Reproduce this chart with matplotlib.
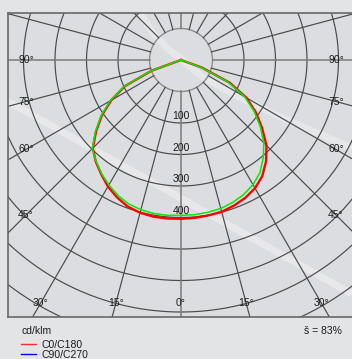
import numpy as np
import matplotlib
matplotlib.use("Agg")
import matplotlib.pyplot as plt
from matplotlib.lines import Line2D

plt.rcParams['font.family'] = ['Liberation Sans', 'DejaVu Sans']

# Luminous intensity distribution, cd/klm, against gamma (degrees from nadir)
gamma = [0, 5, 10, 15, 20, 25, 30, 35, 40, 45, 50, 55, 60, 65, 70, 75]
c0 = [404, 403, 401, 399, 392, 383, 370, 350, 320, 284, 236, 190, 140, 70, -30, -100]
c180 = [404, 405, 405, 402, 395, 381, 364, 342, 321, 296, 252, 207, 156, 97, 0, -100]
c90 = [393, 393, 391, 388, 381, 371, 357, 337, 306, 272, 228, 183, 133, 63, -35, -100]
c270 = [393, 395, 395, 392, 386, 374, 358, 340, 320, 298, 255, 210, 160, 100, 4, -100]

ring_values = [100, 200, 300, 400]
ring_labels = ["100", "200", "300", "400"]
side_angles = [45, 60, 75, 90]
bottom_angles = [0, 15, 30]
efficiency = "š = 83%"
unit = "cd/klm"
series_names = ["C0/C180", "C90/C270"]

R_ORIGIN = -100          # value drawn at the pole
RING_STEP = 100

W, H = 352, 359
PX = 0.315               # pixels per cd/klm
cx, cy = 181, 60         # pole position in pixels
fl, ft, fb = 8, 13, 317  # frame left / top / bottom in pixels

fig = plt.figure(figsize=(W / 100, H / 100), dpi=100, facecolor='#e3e4e5')
ax = fig.add_axes([fl / W, 1 - fb / H, 2 * (cx - fl) / W, (fb - ft) / H])
ax.set_xlim(-(cx - fl) / PX, (cx - fl) / PX)
ax.set_ylim(-(fb - cy) / PX, (cy - ft) / PX)
ax.set_facecolor('#dcdde0')
ax.set_xticks([])
ax.set_yticks([])
for s in ['left', 'top', 'bottom']:
    ax.spines[s].set_color('#686868')
    ax.spines[s].set_linewidth(1.2)
ax.spines['right'].set_visible(False)


# soft light streaks across the background (pixel coordinates)
def to_data(px, py):
    return (np.asarray(px, float) - cx) / PX, (cy - np.asarray(py, float)) / PX


def streak(px, py, lw, alpha):
    k = np.linspace(0, len(px) - 1, 200)
    sx = np.interp(k, np.arange(len(px)), px)
    sy = np.interp(k, np.arange(len(py)), py)
    x, y = to_data(sx, sy)
    ax.plot(x, y, color='white', lw=lw, alpha=alpha, solid_capstyle='butt',
            zorder=1, clip_on=True)


streak([0, 352], [97, 294], 5, 0.35)
streak([130, 141, 153, 166, 180, 203, 235, 280, 352],
       [-5, 15, 33, 47, 58, 77, 95, 117, 148], 5, 0.3)


# radial scale
def radius(v):
    return np.asarray(v, float) - R_ORIGIN


th = np.linspace(0, 2 * np.pi, 721)
ring_all = np.arange(0, 1000, RING_STEP)
for v in ring_all:
    r = radius(v)
    if v == 0:
        ax.plot(r * np.sin(th), r * np.cos(th), color='#8c8c8c', lw=1.0, zorder=2)
    else:
        ax.plot(r * np.sin(th), r * np.cos(th), color='#4a4a4a', lw=0.85, zorder=2)

r_in, r_out = radius(0), radius(1200)
for a in range(0, 360, 15):
    t = np.radians(a)
    col, lw = ('#7a7a7a', 1.1) if a % 90 == 0 else ('#4a4a4a', 0.85)
    ax.plot([r_in * np.sin(t), r_out * np.sin(t)],
            [-r_in * np.cos(t), -r_out * np.cos(t)], color=col, lw=lw, zorder=2)


# intensity curves
def curve(left, right):
    g = np.radians(gamma)
    rl, rr = radius(left), radius(right)
    x = np.concatenate([-(rl * np.sin(g))[::-1], rr * np.sin(g)])
    y = np.concatenate([-(rl * np.cos(g))[::-1], -rr * np.cos(g)])
    return x, y


x, y = curve(c180, c0)
ax.plot(x, y, color='#ff0000', lw=1.7, zorder=4, solid_joinstyle='round')
x, y = curve(c270, c90)
ax.plot(x, y, color='#00ee00', lw=1.1, zorder=5, solid_joinstyle='round')

# labels
tk = dict(fontsize=7.5, color='#1c1c1c', ha='center', va='center', zorder=6)
for v, lab in zip(ring_values, ring_labels):
    ax.text(0, -(radius(v) - 22), lab, **tk)

xs = 155 / PX
for a in side_angles:
    t = np.radians(a)
    yy = 0 if a == 90 else -xs / np.tan(t)
    ax.text(-xs, yy, f"{a}°", **tk)
    ax.text(xs, yy, f"{a}°", **tk)
yb = 243 / PX
for a in bottom_angles:
    xx = yb * np.tan(np.radians(a))
    ax.text(-xx, -yb, f"{a}°", **tk)
    if a:
        ax.text(xx, -yb, f"{a}°", **tk)

fig.text(21 / W, 1 - 331 / H, unit, fontsize=7.5, color='#1c1c1c', ha='left', va='center')
fig.text(342 / W, 1 - 331 / H, efficiency, fontsize=7.5, color='#1c1c1c', ha='right', va='center')
for name, col, yp in zip(series_names, ['#ff2a2a', '#0000ff'], [344, 354]):
    fig.add_artist(Line2D([21 / W, 36 / W], [1 - yp / H] * 2, transform=fig.transFigure,
                          color=col, lw=1.0))
    fig.text(41 / W, 1 - (yp + 0.5) / H, name, fontsize=7.5, color='#1c1c1c',
             ha='left', va='center')

fig.savefig('out.png', dpi=100, facecolor=fig.get_facecolor())
